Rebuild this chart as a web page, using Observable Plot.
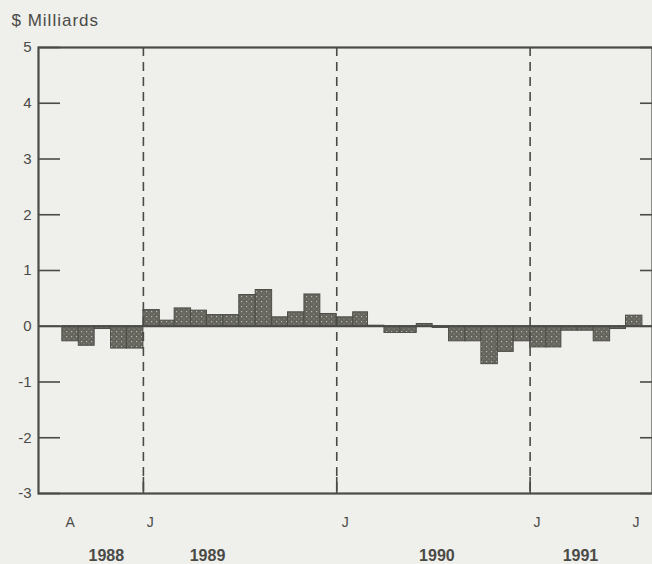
<!DOCTYPE html>
<html>
<head>
<meta charset="utf-8">
<script src="https://cdn.jsdelivr.net/npm/d3@7"></script>
<script src="https://cdn.jsdelivr.net/npm/@observablehq/plot@0.6"></script>
<style>
  html, body { margin: 0; padding: 0; background: #efefec; }
  #chart svg { display: block; }
</style>
</head>
<body>
<div id="chart"></div>
<script>
// Monthly values, $ billions, Aug 1988 – Jul 1991
const months = [
  "1988-08","1988-09","1988-10","1988-11","1988-12",
  "1989-01","1989-02","1989-03","1989-04","1989-05","1989-06",
  "1989-07","1989-08","1989-09","1989-10","1989-11","1989-12",
  "1990-01","1990-02","1990-03","1990-04","1990-05","1990-06",
  "1990-07","1990-08","1990-09","1990-10","1990-11","1990-12",
  "1991-01","1991-02","1991-03","1991-04","1991-05","1991-06","1991-07"
];
const values = [
  -0.27, -0.35, -0.05, -0.40, -0.40,
  0.29, 0.10, 0.32, 0.28, 0.20, 0.20,
  0.56, 0.65, 0.16, 0.25, 0.57, 0.22,
  0.16, 0.25, 0.01, -0.12, -0.12, 0.04,
  -0.03, -0.27, -0.27, -0.68, -0.46, -0.27,
  -0.38, -0.38, -0.08, -0.08, -0.27, -0.05, 0.19
];
const yTicks = [-3, -2, -1, 0, 1, 2, 3, 4, 5];
const yearMarks = ["1989-01-01", "1990-01-01", "1991-01-01"];
const monthLabels = ["A", "J", "J", "J", "J"];
const monthLabelDates = ["1988-08-16", "1989-01-14", "1990-01-17", "1991-01-14", "1991-07-20"];
const yearLabels = ["1988", "1989", "1990", "1991"];
const yearLabelDates = ["1988-10-23", "1989-05-02", "1990-07-09", "1991-04-06"];
const xDomain = ["1988-06-17", "1991-08-20"];
const title = "$ Milliards";

const parse = d3.utcParse("%Y-%m-%d");
const bars = months.map((m, i) => {
  const start = parse(m + "-01");
  return {start, end: d3.utcMonth.offset(start, 1), value: values[i]};
});
const marks1 = monthLabels.map((t, i) => ({date: parse(monthLabelDates[i]), label: t}));
const marks2 = yearLabels.map((t, i) => ({date: parse(yearLabelDates[i]), label: t}));
const jan = yearMarks.map(parse);

const ink = "#4a4a46";
const W = 652, H = 564;
const frameW = W - 38;

const plot = Plot.plot({
  width: W,
  height: H,
  marginLeft: 38,
  marginRight: 0,
  marginTop: 47,
  marginBottom: 71,
  style: {background: "transparent", fontFamily: "'Liberation Sans', Arial, sans-serif", color: ink},
  x: {type: "utc", domain: xDomain.map(parse), axis: null, label: null},
  y: {domain: [-3, 5], axis: null, label: null},
  marks: [
    Plot.rectY(bars, {x1: "start", x2: "end", y: "value", fill: "url(#dots)", stroke: "#4d4d48", strokeWidth: 1}),
    Plot.ruleY([0], {stroke: ink, strokeWidth: 1.8}),
    Plot.ruleX(jan, {stroke: ink, strokeWidth: 1.6, strokeDasharray: "9,6"}),
    Plot.tickX(jan, {stroke: ink, strokeWidth: 1.6, insetTop: 430}),
    Plot.tickY(yTicks, {stroke: ink, strokeWidth: 1.6, insetRight: frameW - 22}),
    Plot.tickY(yTicks, {stroke: ink, strokeWidth: 1.6, insetLeft: frameW - 12}),
    Plot.frame({stroke: ink, strokeWidth: 2.2}),
    Plot.axisY({ticks: yTicks, label: null, tickSize: 0, tickPadding: 7, tickFormat: d => String(d), fontSize: 15, fill: ink}),
    Plot.text(marks1, {x: "date", text: "label", frameAnchor: "bottom", lineAnchor: "middle", dy: 29, fontSize: 14, fill: ink}),
    Plot.text(marks2, {x: "date", text: "label", frameAnchor: "bottom", lineAnchor: "middle", dy: 62, fontSize: 16, fontWeight: "bold", fill: ink}),
    Plot.text([title], {frameAnchor: "top-left", lineAnchor: "middle", dx: -27, dy: -27, textAnchor: "start", fontSize: 17, fill: ink})
  ]
});

// stipple pattern for the bars
const ns = "http://www.w3.org/2000/svg";
const defs = document.createElementNS(ns, "defs");
defs.innerHTML = `<pattern id="dots" width="5" height="5" patternUnits="userSpaceOnUse">
  <rect width="5" height="5" fill="#65655e"></rect>
  <rect x="1" y="1" width="1.2" height="1.2" fill="#b9b9b0"></rect>
  <rect x="3.5" y="3.5" width="1" height="1" fill="#9a9a92"></rect>
</pattern>`;
plot.insertBefore(defs, plot.firstChild);
plot.querySelectorAll("text").forEach(t => {
  if (t.textContent === title) t.setAttribute("letter-spacing", "1px");
});
document.getElementById("chart").appendChild(plot);
</script>
</body>
</html>
